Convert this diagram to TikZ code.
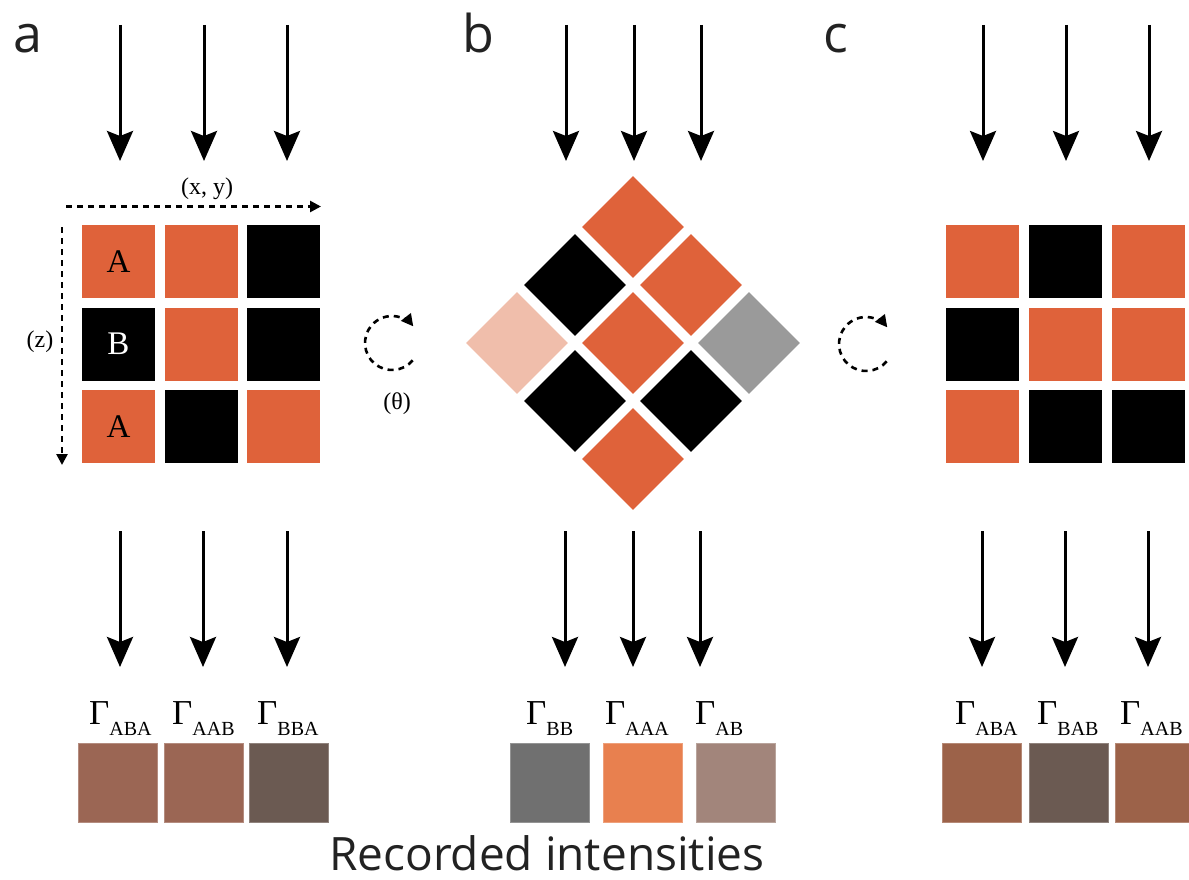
\documentclass[tikz,border=0pt]{standalone}
\usepackage{fontspec}
\setmainfont{Liberation Serif}
\newfontfamily\panelsans{Open Sans}
\usetikzlibrary{arrows.meta}

\definecolor{tileorange}{HTML}{DF623A}
\definecolor{tilepink}{HTML}{F0BEAB}
\definecolor{tilegray}{HTML}{9A9A9A}
\definecolor{recA}{HTML}{9B6654}
\definecolor{recB}{HTML}{6B5A52}
\definecolor{recC}{HTML}{9C6249}
\definecolor{recgray}{HTML}{707070}
\definecolor{recorange}{HTML}{E8804F}
\definecolor{recmauve}{HTML}{A2857B}
\definecolor{inktext}{HTML}{222222}

% intensity label: big Gamma with a lowered subscript
\newcommand{\gamlabel}[1]{{\fontsize{35}{35}\selectfont Γ}{\fontsize{20}{20}\selectfont\raisebox{-11pt}{#1}}}

\begin{document}
\begin{tikzpicture}[x=1pt,y=-1pt,
  cell/.style={minimum size=73pt, inner sep=0pt, outer sep=0pt, draw=none,
               font=\fontsize{33}{33}\selectfont},
  dcell/.style={minimum size=72pt, inner sep=0pt, outer sep=0pt, draw=none, rotate=45},
  recbox/.style={minimum size=79pt, inner sep=0pt, outer sep=0pt, line width=0.8pt},
  beam/.style={line width=3pt, -{Stealth[length=30pt,width=26pt,inset=5pt]}},
  axis/.style={line width=2.6pt, dash pattern=on 6pt off 5pt,
               -{Triangle[length=11pt,width=11pt]}},
  spin/.style={line width=2.6pt, dash pattern=on 6pt off 5pt,
               -{Triangle[length=12pt,width=12pt]}},
  gam/.style={anchor=base west, inner sep=0pt},
  panel/.style={font=\panelsans\fontsize{52}{52}\selectfont, text=inktext,
                inner sep=0pt, anchor=base},
  axlabel/.style={font=\fontsize{24}{24}\selectfont, inner sep=0pt}
]
\useasboundingbox (0,0) rectangle (1189,880);

% panel letters
\node[panel] (la) at (28,53) {a};
\node[panel] (lb) at (478,53) {b};
\node[panel] (lc) at (836,53) {c};

% ---------------- panel a: tile grid ----------------
\node[cell, fill=tileorange] (a11) at (118.5,261.5) {A};
\node[cell, fill=tileorange] (a12) at (201,261.5) {};
\node[cell, fill=black]      (a13) at (283.5,261.5) {};
\node[cell, fill=black, text=white] (a21) at (118.5,344) {B};
\node[cell, fill=tileorange] (a22) at (201,344) {};
\node[cell, fill=black]      (a23) at (283.5,344) {};
\node[cell, fill=tileorange] (a31) at (118.5,426.5) {A};
\node[cell, fill=black]      (a32) at (201,426.5) {};
\node[cell, fill=tileorange] (a33) at (283.5,426.5) {};

% axes of panel a
\coordinate (xs) at (66,206.5);
\coordinate (xe) at (321,206.5);
\draw[axis] (xs) -- (xe);
\node[axlabel] (xylab) at (207,189) {(x, y)};
\coordinate (zs) at (62,227);
\coordinate (ze) at (62,465);
\draw[axis] (zs) -- (ze);
\node[axlabel] (zlab) at (40,342) {(z)};

% rotation a -> b
\coordinate (ra) at (392,343);
\draw[spin] (ra) ++(40:27) arc[start angle=40, end angle=322, radius=27];
\node[axlabel] (thlab) at (397,404) {(θ)};

% ---------------- panel b: rotated grid ----------------
\node[dcell, fill=tileorange] (b1) at (633,227) {};
\node[dcell, fill=black]      (b2) at (575,285) {};
\node[dcell, fill=tileorange] (b3) at (691,285) {};
\node[dcell, fill=tilepink]   (b4) at (517,343) {};
\node[dcell, fill=tileorange] (b5) at (633,343) {};
\node[dcell, fill=tilegray]   (b6) at (749,343) {};
\node[dcell, fill=black]      (b7) at (575,401) {};
\node[dcell, fill=black]      (b8) at (691,401) {};
\node[dcell, fill=tileorange] (b9) at (633,459) {};

% rotation b -> c
\coordinate (rb) at (866,344);
\draw[spin] (rb) ++(40:27) arc[start angle=40, end angle=322, radius=27];

% ---------------- panel c: tile grid ----------------
\node[cell, fill=tileorange] (c11) at (982.5,261.5) {};
\node[cell, fill=black]      (c12) at (1065.5,261.5) {};
\node[cell, fill=tileorange] (c13) at (1148.5,261.5) {};
\node[cell, fill=black]      (c21) at (982.5,344) {};
\node[cell, fill=tileorange] (c22) at (1065.5,344) {};
\node[cell, fill=tileorange] (c23) at (1148.5,344) {};
\node[cell, fill=tileorange] (c31) at (982.5,426.5) {};
\node[cell, fill=black]      (c32) at (1065.5,426.5) {};
\node[cell, fill=black]      (c33) at (1148.5,426.5) {};

% ---------------- incoming and outgoing beams ----------------
\foreach \x [count=\i] in {120,204,287,566,634,701,983,1066,1149}{
  \coordinate (in\i s) at (\x,25);
  \coordinate (in\i e) at (\x,161);
  \draw[beam] (in\i s) -- (in\i e);
}
\foreach \x [count=\i] in {120,203,287,565,633,700,982,1065,1148}{
  \coordinate (out\i s) at (\x,531);
  \coordinate (out\i e) at (\x,667);
  \draw[beam] (out\i s) -- (out\i e);
}

% ---------------- recorded intensities ----------------
\node[recbox, fill=recA, draw=recA!75!white] (ra1) at (117.5,782.5) {};
\node[recbox, fill=recA, draw=recA!75!white] (ra2) at (203.5,782.5) {};
\node[recbox, fill=recB, draw=recB!75!white] (ra3) at (288.5,782.5) {};
\node[gam] (ga1) at (89,724) {\gamlabel{ABA}};
\node[gam] (ga2) at (172,724) {\gamlabel{AAB}};
\node[gam] (ga3) at (257,724) {\gamlabel{BBA}};

\node[recbox, fill=recgray, draw=recgray!75!white]     (rb1) at (549.5,782.5) {};
\node[recbox, fill=recorange, draw=recorange!75!white] (rb2) at (642.5,782.5) {};
\node[recbox, fill=recmauve, draw=recmauve!75!white]   (rb3) at (736,782.5) {};
\node[gam] (gb1) at (526,724) {\gamlabel{BB}};
\node[gam] (gb2) at (605,724) {\gamlabel{AAA}};
\node[gam] (gb3) at (695,724) {\gamlabel{AB}};

\node[recbox, fill=recC, draw=recC!75!white] (rc1) at (982,782.5) {};
\node[recbox, fill=recB, draw=recB!75!white] (rc2) at (1068.5,782.5) {};
\node[recbox, fill=recC, draw=recC!75!white] (rc3) at (1154.5,782.5) {};
\node[gam] (gc1) at (955,724) {\gamlabel{ABA}};
\node[gam] (gc2) at (1037,724) {\gamlabel{BAB}};
\node[gam] (gc3) at (1120,724) {\gamlabel{AAB}};

\node[font=\panelsans\fontsize{46}{46}\selectfont, text=inktext, inner sep=0pt,
      anchor=base west] (rec) at (329,870) {Recorded intensities};
\end{tikzpicture}
\end{document}
